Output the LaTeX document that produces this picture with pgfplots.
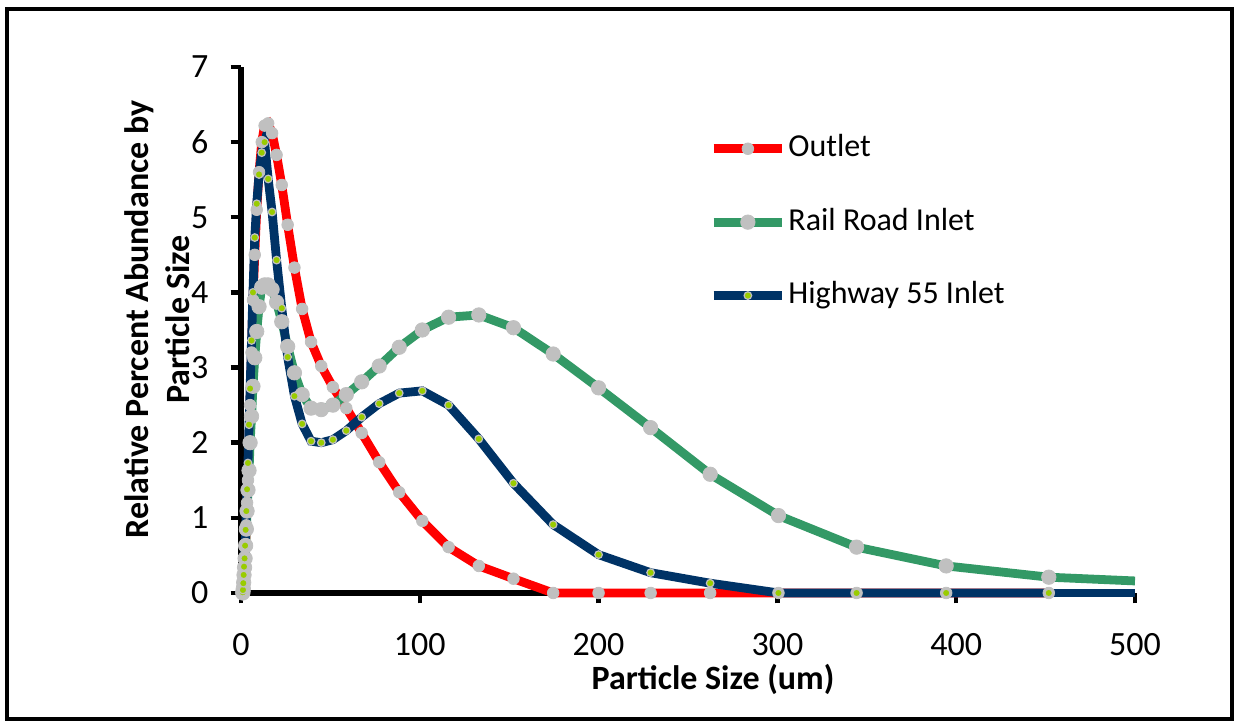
\documentclass[border=0pt]{standalone}
\usepackage{fontspec}
\setmainfont{Carlito}
\usepackage{pgfplots}
\pgfplotsset{compat=1.18}

\definecolor{OutletRed}{HTML}{FF0000}
\definecolor{RailGreen}{HTML}{339966}
\definecolor{HwyNavy}{HTML}{003366}
\definecolor{MarkGray}{HTML}{C0C0C0}
\definecolor{DotGreen}{HTML}{99CC00}

\newcommand{\chartfont}{\fontsize{8.5}{10.2}\selectfont}

\begin{document}
\begin{tikzpicture}
\useasboundingbox (-60.25pt,-32.5pt) rectangle (248.75pt,148.25pt);
\begin{axis}[
    at={(0,0)}, anchor=south west,
    scale only axis,
    width=223.5pt, height=131.5pt,
    xmin=0, xmax=500, ymin=0, ymax=7,
    xtick={0,100,...,500},
    ytick={0,1,...,7},
    axis lines*=left,
    axis line style={line width=1.5pt, black},
    tick align=outside,
    major tick length=2.6pt,
    tick style={line width=1.1pt, black},
    tick label style={font=\chartfont},
    xticklabel style={yshift=-4pt},
    yticklabel style={xshift=-2pt},
    /pgf/number format/assume math mode=true,
    xlabel={\textbf{Particle Size (um)}},
    ylabel={\textbf{Relative Percent Abundance by}\\\textbf{Particle Size}},
    label style={font=\chartfont},
    xlabel style={at={(axis description cs:0.528,-0.165)}, anchor=center},
    ylabel style={at={(axis description cs:-0.094,0.52)}, anchor=center, align=center},
    legend style={at={(axis description cs:0.523,0.705)}, anchor=west,
        draw=none, fill=none, inner sep=0pt,
        font=\fontsize{8}{9.6}\selectfont,
        row sep=11.3pt, column sep=0.5pt, nodes={inner sep=0pt}},
    legend cell align=left,
    clip=false,
]
% Outlet
\addplot[OutletRed, line width=2.2pt,
    mark=*, mark size=1.45pt,
    mark options={solid, line width=0.2pt, draw=MarkGray, fill=MarkGray}]
coordinates {
(1.0,0) (1.1,0.02) (1.3,0.05) (1.5,0.12) (1.7,0.2) (2.0,0.32) (2.3,0.45)
(2.6,0.65) (3.0,0.9) (3.4,1.2) (3.9,1.5) (4.5,2.0) (5.1,2.5) (5.9,3.2)
(6.7,3.9) (7.7,4.5) (8.8,5.1) (10.1,5.6) (11.6,6.0) (13.2,6.22) (15.2,6.25)
(17.4,6.12) (19.9,5.83) (22.8,5.43) (26.1,4.90) (29.9,4.33) (34.2,3.78)
(39.2,3.34) (44.9,3.02) (51.4,2.74) (58.9,2.46) (67.5,2.13) (77.3,1.74)
(88.5,1.34) (101.4,0.96) (116.1,0.61) (133.0,0.36) (152.4,0.19) (174.6,0)
(200,0) (229.1,0) (262.4,0) (300.6,0) (344.3,0) (394.4,0) (451.8,0)
};
\addlegendentry{Outlet}
% Rail Road Inlet
\addplot[RailGreen, line width=2.2pt,
    mark=*, mark size=1.8pt,
    mark options={solid, line width=0.2pt, draw=MarkGray, fill=MarkGray}]
coordinates {
(1.0,0) (1.1,0.02) (1.3,0.06) (1.5,0.14) (1.7,0.24) (2.0,0.34) (2.3,0.46)
(2.6,0.63) (3.0,0.85) (3.4,1.09) (3.9,1.37) (4.5,1.63) (5.1,2.0) (5.9,2.35)
(6.7,2.75) (7.7,3.13) (8.8,3.48) (10.1,3.81) (11.6,4.07) (13.2,4.1) (15.2,4.1)
(17.4,4.04) (19.9,3.87) (22.8,3.61) (26.1,3.28) (29.9,2.93) (34.2,2.64)
(39.2,2.46) (44.9,2.44) (51.4,2.50) (58.9,2.64) (67.5,2.81) (77.3,3.02)
(88.5,3.27) (101.4,3.50) (116.1,3.67) (133.0,3.70) (152.4,3.53) (174.6,3.18)
(200,2.73) (229.1,2.20) (262.4,1.58) (300.6,1.03) (344.3,0.61) (394.4,0.36)
(451.8,0.21)
};
\addlegendentry{Rail Road Inlet}
\addplot[RailGreen, line width=2.2pt, forget plot] coordinates {(451.8,0.21) (500,0.16)};
% Highway 55 Inlet
\addplot[HwyNavy, line width=2.2pt,
    mark=*, mark size=0.95pt,
    mark options={solid, line width=0.3pt, draw=MarkGray, fill=DotGreen}]
coordinates {
(0.76,0) (0.87,0) (1.0,0.01) (1.1,0.04) (1.3,0.13) (1.5,0.24) (1.7,0.35)
(2.0,0.46) (2.3,0.63) (2.6,0.84) (3.0,1.09) (3.4,1.38) (3.9,1.73) (4.5,2.24)
(5.1,2.72) (5.9,3.36) (6.7,4.0) (7.7,4.73) (8.8,5.18) (10.1,5.57) (11.6,5.86)
(13.2,6.0) (15.2,5.51) (17.4,5.07) (19.9,4.43) (22.8,3.79) (26.1,3.14)
(29.9,2.62) (34.2,2.25) (39.2,2.02) (44.9,2.00) (51.4,2.04) (58.9,2.16)
(67.5,2.34) (77.3,2.52) (88.5,2.66) (101.4,2.69) (116.1,2.50) (133.0,2.05)
(152.4,1.46) (174.6,0.91) (200,0.51) (229.1,0.27) (262.4,0.13) (300.6,0)
(344.3,0) (394.4,0) (451.8,0)
};
\addlegendentry{Highway 55 Inlet}
\addplot[HwyNavy, line width=2.2pt, forget plot] coordinates {(451.8,0) (500,0)};
\end{axis}
\draw[line width=1pt, black] (-58.5pt,-31.5pt) rectangle (247.75pt,146pt);
\end{tikzpicture}
\end{document}
